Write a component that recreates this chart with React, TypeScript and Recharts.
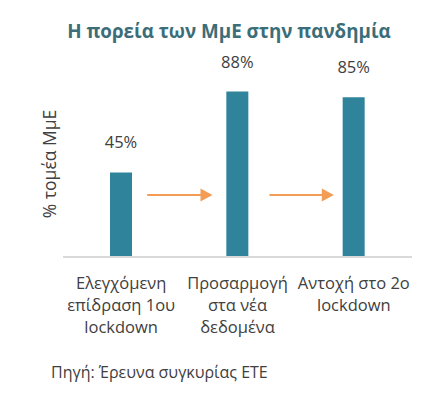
import { Bar, BarChart, LabelList, ReferenceLine, XAxis, YAxis } from "recharts";

const categories = [
  ["Ελεγχόμενη", "επίδραση 1ου", "lockdown"],
  ["Προσαρμογή", "στα νέα", "δεδομένα"],
  ["Αντοχή στο 2ο", "lockdown"],
];
const shares = [45, 88, 85];
const arrowLevel = 33;

const data = categories.map((lines, i) => ({
  name: lines.join(" "),
  share: shares[i],
}));

const FONT = "'Open Sans', sans-serif";
const TEXT = "#404040";

function MultiLineTick(props: any) {
  const { x, y, payload, index } = props;
  const lines = categories[index] ?? [payload.value];
  return (
    <text x={x} y={y} textAnchor="middle" fill={TEXT} fontSize={16.5} fontFamily={FONT}>
      {lines.map((line, i) => (
        <tspan key={i} x={x} y={y + 24 + i * 22}>
          {line}
        </tspan>
      ))}
    </text>
  );
}

function Arrow(props: any) {
  const { x1, y1, x2, startInset = 26, endInset = 25 } = props;
  // shorten the segment so it sits in the gap between two bars
  const start = x1 + startInset;
  const end = x2 - endInset;
  return (
    <g>
      <line x1={start} y1={y1} x2={end - 10} y2={y1} stroke="#f39c55" strokeWidth={2} />
      <polygon
        points={`${end - 12},${y1 - 6.5} ${end},${y1} ${end - 12},${y1 + 6.5}`}
        fill="#f39c55"
      />
    </g>
  );
}

export default function App() {
  return (
    <div
      style={{
        position: "absolute",
        left: 0,
        top: 0,
        width: 447,
        height: 398,
        background: "#fff",
        fontFamily: FONT,
      }}
    >
      <div
        style={{
          position: "absolute",
          top: 18,
          left: 0,
          width: 458,
          textAlign: "center",
          fontSize: 18.8,
          fontWeight: 700,
          color: "#3b6e78",
        }}
      >
        Η πορεία των ΜμΕ στην πανδημία
      </div>
      <div
        style={{
          position: "absolute",
          left: 49,
          top: 164,
          transform: "translate(-50%, -50%) rotate(-90deg)",
          fontSize: 17.5,
          color: TEXT,
          whiteSpace: "nowrap",
        }}
      >
        % τομέα ΜμΕ
      </div>
      <BarChart
        width={447}
        height={398}
        data={data}
        margin={{ top: 69, right: 35, bottom: 61, left: 63 }}
        style={{ position: "absolute", left: 0, top: 0 }}
      >
        <YAxis hide domain={[0, 100]} />
        <XAxis
          dataKey="name"
          height={80}
          axisLine={{ stroke: "#d9d9d9", strokeWidth: 2 }}
          tickLine={false}
          interval={0}
          tick={<MultiLineTick />}
        />
        <ReferenceLine
          segment={[
            { x: data[0].name, y: arrowLevel },
            { x: data[1].name, y: arrowLevel },
          ]}
          shape={<Arrow startInset={26} endInset={25} />}
        />
        <ReferenceLine
          segment={[
            { x: data[1].name, y: arrowLevel },
            { x: data[2].name, y: arrowLevel },
          ]}
          shape={<Arrow startInset={32} endInset={20} />}
        />
        <Bar dataKey="share" fill="#2f849b" barSize={22} isAnimationActive={false}>
          <LabelList
            dataKey="share"
            position="top"
            offset={24}
            formatter={(v: any) => `${v}%`}
            fill={TEXT}
            fontSize={16.5}
            fontFamily={FONT}
          />
        </Bar>
      </BarChart>
      <div
        style={{
          position: "absolute",
          left: 51,
          top: 361,
          fontSize: 16,
          color: TEXT,
          whiteSpace: "nowrap",
        }}
      >
        Πηγή: Έρευνα συγκυρίας ΕΤΕ
      </div>
    </div>
  );
}
